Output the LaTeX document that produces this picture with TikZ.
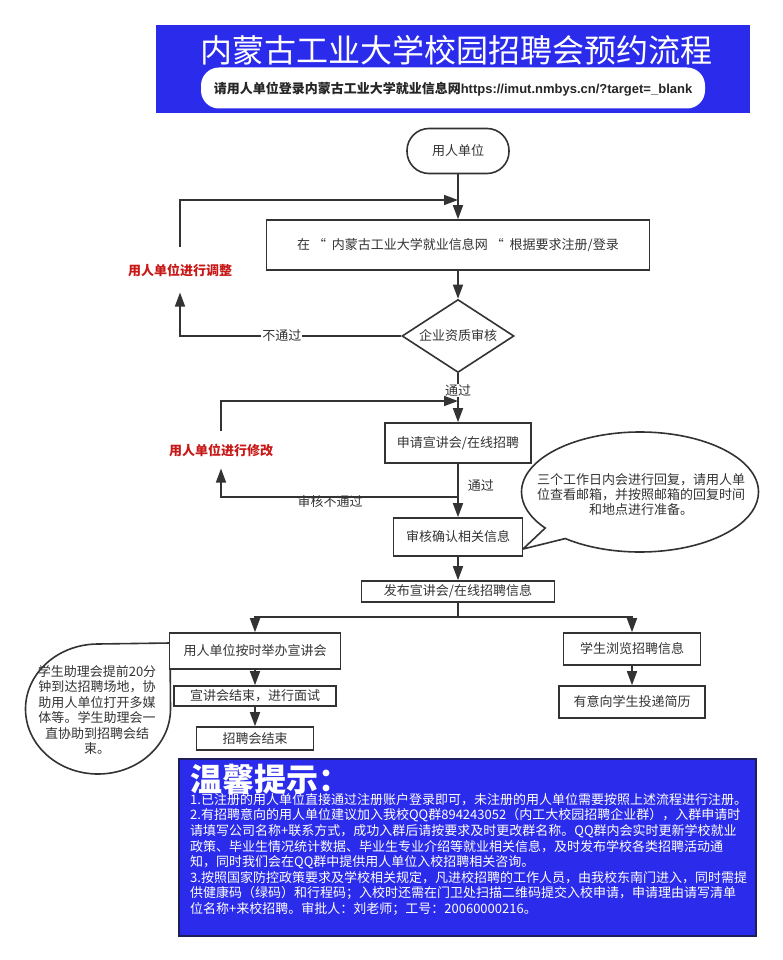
\documentclass[tikz,border=0pt]{standalone}
\usepackage{fontspec}
\setmainfont{Noto Sans CJK SC}
\newfontfamily\arialf{Liberation Sans}
\usetikzlibrary{arrows.meta,shapes.geometric,shapes.callouts}
\definecolor{lc}{HTML}{333333}
\definecolor{bblue}{RGB}{43,43,235}
\definecolor{navy}{RGB}{30,30,90}
\definecolor{redlab}{RGB}{200,25,25}
\begin{document}
\begin{tikzpicture}[x=1pt,y=-1pt,
  box/.style={draw=lc, line width=1.6pt, fill=white, text=lc, font=\fontsize{13}{15.6}\selectfont, inner sep=0pt},
  arr/.style={draw=lc, line width=1.6pt, -{Triangle[length=14pt,width=10pt]}},
  ln/.style={draw=lc, line width=1.6pt},
  lab/.style={text=lc, font=\fontsize{13}{15.6}\selectfont, inner sep=1pt},
  redl/.style={text=redlab, font=\bfseries\fontsize{13}{15.6}\selectfont, inner xsep=0pt},
  bubble/.style={ellipse callout, draw=lc, line width=1.6pt, fill=white, inner sep=0pt},
  btext/.style={text=lc, font=\fontsize{13}{15.5}\selectfont, align=center, inner sep=0pt},
]
\useasboundingbox (0,0) rectangle (783,960);
\fill[white] (0,0) rectangle (783,960);
% header
\node[fill=bblue, minimum width=594pt, minimum height=88pt, inner sep=0pt, anchor=north west] (hdr) at (156,25) {};
\node[text=white, font=\fontsize{32}{32}\selectfont, inner sep=0pt] (title) at (456,50) {内蒙古工业大学校园招聘会预约流程};
\node[fill=white, rounded corners=18pt, minimum width=504pt, minimum height=41pt, inner sep=0pt] (urlbox) at (453,88) {};
\node[font=\bfseries\fontsize{13}{13}\selectfont, text=black!85, inner sep=0pt] (url) at (453,89) {请用人单位登录内蒙古工业大学就业信息网{\arialf\bfseries https://imut.nmbys.cn/?target=\_blank}};
% bubbles (behind boxes)
\coordinate (p1) at (523,549);
\node[bubble, minimum width=237pt, minimum height=120pt, callout absolute pointer={(p1)}, callout pointer arc=14] (bub1) at (640,492) {};
\node[btext, font=\fontsize{13}{15}\selectfont] (bub1t) at (641,495) {三个工作日内会进行回复，请用人单\\位查看邮箱，并按照邮箱的回复时间\\和地点进行准备。};
\coordinate (p2) at (170,643);
\node[bubble, minimum width=145pt, minimum height=130pt, callout absolute pointer={(p2)}, callout pointer arc=90] (bub2) at (98,709) {};
\node[btext] (bub2t) at (97,710) {学生助理会提前20分\\钟到达招聘场地，协\\助用人单位打开多媒\\体等。学生助理会一\\直协助到招聘会结\\束。};
% flow nodes
\node[box, rounded corners=22pt, minimum width=102pt, minimum height=45pt] (start) at (458,151) {用人单位};
\node[box, minimum width=383pt, minimum height=50pt] (reg) at (458,245) {在 “ \ 内蒙古工业大学就业信息网 “ \ 根据要求注册/登录};
\node[box, diamond, aspect=1.53, minimum width=112pt, minimum height=73pt] (dia) at (458,336) {企业资质审核};
\node[box, minimum width=146pt, minimum height=40pt] (apply) at (458,443) {申请宣讲会/在线招聘};
\node[box, minimum width=129pt, minimum height=38pt] (check) at (458,537) {审核确认相关信息};
\node[box, minimum width=193pt, minimum height=21pt] (pub) at (458,591.5) {发布宣讲会/在线招聘信息};
\node[box, minimum width=171pt, minimum height=36pt] (A) at (255,651) {用人单位按时举办宣讲会};
\node[box, minimum width=162pt, minimum height=20pt] (B) at (255,696) {宣讲会结束，进行面试};
\node[box, minimum width=117pt, minimum height=23pt] (C) at (255,738.5) {招聘会结束};
\node[box, minimum width=137pt, minimum height=32pt] (D) at (632,649) {学生浏览招聘信息};
\node[box, minimum width=146pt, minimum height=32pt] (E) at (632,702) {有意向学生投递简历};
% red labels
\node[redl, inner ysep=16pt] (adj) at (180,270) {用人单位进行调整};
\node[redl, inner ysep=12pt] (mod) at (221,450) {用人单位进行修改};
% junctions
\coordinate (j1) at (458,200);
\coordinate (j2) at (458,497);
\coordinate (j3) at (458,401);
\coordinate (split) at (458,617);
% connectors
\draw[arr] (start.south) -- (reg.north);
\draw[arr] (reg.south) -- (dia.north);
\draw[arr] (dia.south) -- node[lab, fill=white, pos=0.35] {通过} (apply.north);
\draw[arr] (dia.west) -| node[lab, fill=white, pos=0.27] {不通过} (adj.south);
\draw[arr] (adj.north) |- (j1);
\draw[arr] (apply.south) -- node[lab, anchor=west, xshift=8pt, pos=0.4] {通过} (check.north);
\draw[arr] (j2) -| node[lab, pos=0.27, yshift=-5pt] {审核不通过} (mod.south);
\draw[arr] (mod.north) |- (j3);
\draw[arr] (check.south) -- (pub.north);
\draw[ln] (pub.south) -- (split);
\draw[arr] (split) -| (A.north);
\draw[arr] (split) -| (D.north);
\draw[arr] (A.south) -- (B.north);
\draw[arr] (B.south) -- (C.north);
\draw[arr] (D.south) -- (E.north);
% tips
\node[fill=bblue, draw=navy, line width=1.5pt, minimum width=577pt, minimum height=177pt, inner sep=0pt, anchor=north west] (tips) at (178,758) {};
\node[text=white, font=\bfseries\fontsize{32}{32}\selectfont, inner sep=0pt, anchor=west] (tiptitle) at (190,779) {温馨提示：};
\node[text=white, font=\fontsize{13}{15.6}\selectfont, align=left, inner sep=0pt, anchor=north west] (tiptext) at (190,793) {1.已注册的用人单位直接通过注册账户登录即可，未注册的用人单位需要按照上述流程进行注册。\\
2.有招聘意向的用人单位建议加入我校QQ群894243052（内工大校园招聘企业群），入群申请时\\
请填写公司名称+联系方式，成功入群后请按要求及时更改群名称。QQ群内会实时更新学校就业\\
政策、毕业生情况统计数据、毕业生专业介绍等就业相关信息，及时发布学校各类招聘活动通\\
知，同时我们会在QQ群中提供用人单位入校招聘相关咨询。\\
3.按照国家防控政策要求及学校相关规定，凡进校招聘的工作人员，由我校东南门进入，同时需提\\
供健康码（绿码）和行程码；入校时还需在门卫处扫描二维码提交入校申请，申请理由请写清单\\
位名称+来校招聘。审批人：刘老师；工号：20060000216。};
\end{tikzpicture}
\end{document}
